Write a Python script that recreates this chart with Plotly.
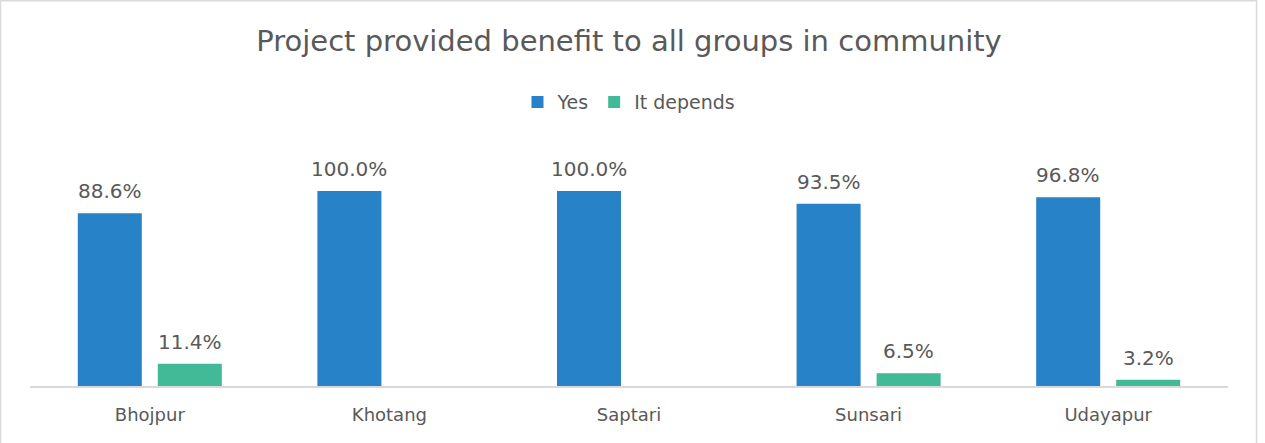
import plotly.graph_objects as go

# Survey results by district
districts = ["Bhojpur", "Khotang", "Saptari", "Sunsari", "Udayapur"]
yes_pct = [88.6, 100.0, 100.0, 93.5, 96.8]
depends_pct = [11.4, None, None, 6.5, 3.2]

title_text = "Project provided benefit to all groups in community"
series_names = ["Yes", "It depends"]
series_colors = ["#2782C7", "#42BA97"]

W, H = 1265, 443
ML, MR, MT, MB = 30, 37, 152, 56.5
plot_w = W - ML - MR
plot_h = H - MT - MB
YMAX = 120

FONT = "DejaVu Sans"
GREY = "#595959"

fig = go.Figure()
for name, vals, col in zip(series_names, [yes_pct, depends_pct], series_colors):
    fig.add_trace(go.Bar(
        name=name, x=districts, y=vals, marker_color=col,
        marker_line_width=0,
    ))

# value labels above each bar (half a bar slot left / right of the category centre)
slot_px = plot_w / len(districts) * (1 - 0.332) / 2
for vals, shift in [(yes_pct, -slot_px / 2), (depends_pct, slot_px / 2)]:
    for d, v in zip(districts, vals):
        if v is None:
            continue
        fig.add_annotation(
            x=d, y=v, text=f"{v:.1f}%", showarrow=False,
            xshift=shift, yshift=8, yanchor="bottom",
            font=dict(family=FONT, size=20, color=GREY),
        )

# outer chart frame
fig.add_shape(
    type="rect", xref="paper", yref="paper",
    x0=(0.5 - ML) / plot_w, x1=(W - 8.5 - ML) / plot_w,
    y0=-(MB + 5) / plot_h, y1=(plot_h + MT - 0.5) / plot_h,
    line=dict(color="#D9D9D9", width=1.5), fillcolor="rgba(0,0,0,0)",
    layer="below",
)

fig.update_layout(
    width=W, height=H,
    margin=dict(l=ML, r=MR, t=MT, b=MB, pad=0),
    paper_bgcolor="white", plot_bgcolor="white",
    barmode="group", bargap=0.332, bargroupgap=0.2,
    title=dict(text=title_text, x=0.5, xref="paper", xanchor="center",
               y=1 - 41 / H, yanchor="middle",
               font=dict(family=FONT, size=29, color=GREY)),
    legend=dict(orientation="h", x=0.5, xanchor="center",
                y=1 + (MT - 102) / plot_h, yanchor="middle",
                font=dict(family=FONT, size=19, color=GREY),
                itemwidth=30, traceorder="normal"),
    font=dict(family=FONT, color=GREY),
    showlegend=True,
)
fig.update_xaxes(
    showline=True, linecolor="#D9D9D9", linewidth=1.5,
    showgrid=False, ticks="", ticklabelstandoff=12,
    tickfont=dict(family=FONT, size=18, color=GREY),
)
fig.update_yaxes(range=[0, YMAX], visible=False, showgrid=False)

fig.write_html("out.html")
